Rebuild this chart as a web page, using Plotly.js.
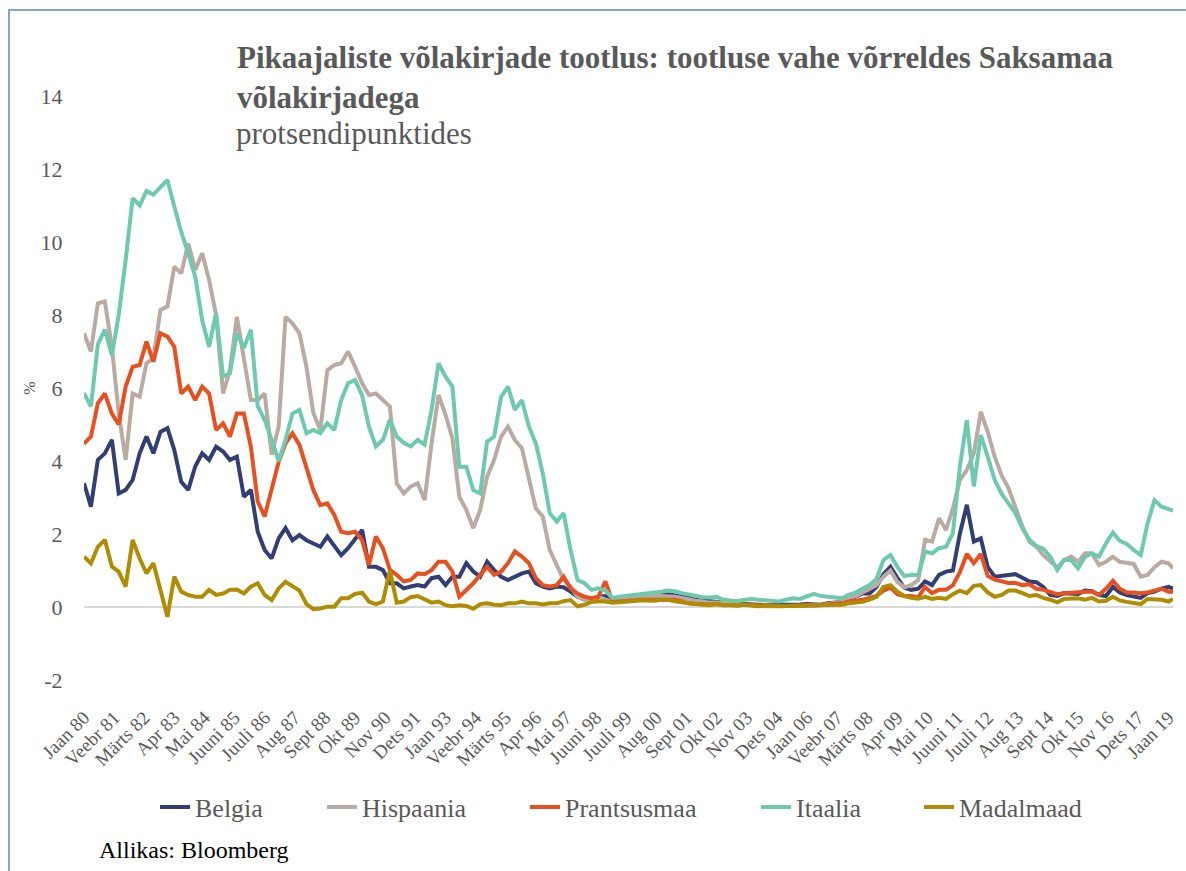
<!DOCTYPE html>
<html><head><meta charset="utf-8">
<script src="https://cdn.plot.ly/plotly-3.0.1.min.js"></script>
<style>
html,body{margin:0;padding:0;background:#fff;}
#wrap{position:relative;width:1186px;height:871px;overflow:hidden;}
#chart{width:1186px;height:871px;}
#frame{position:absolute;left:8px;top:9px;width:1400px;height:1000px;border-left:2px solid #82a3d6;border-top:2px solid #82a3d6;pointer-events:none;}
</style></head>
<body><div id="wrap"><div id="chart"></div><div id="frame"></div></div>
<script>
const dates = [
"1980-01","1980-04","1980-07","1980-10","1981-01","1981-04","1981-07","1981-10",
"1982-01","1982-04","1982-07","1982-10","1983-01","1983-04","1983-07","1983-10",
"1984-01","1984-04","1984-07","1984-10","1985-01","1985-04","1985-07","1985-10",
"1986-01","1986-04","1986-07","1986-10","1987-01","1987-04","1987-07","1987-10",
"1988-01","1988-04","1988-07","1988-10","1989-01","1989-04","1989-07","1989-10",
"1990-01","1990-04","1990-07","1990-10","1991-01","1991-04","1991-07","1991-10",
"1992-01","1992-04","1992-07","1992-10","1993-01","1993-04","1993-07","1993-10",
"1994-01","1994-04","1994-07","1994-10","1995-01","1995-04","1995-07","1995-10",
"1996-01","1996-04","1996-07","1996-10","1997-01","1997-04","1997-07","1997-10",
"1998-01","1998-04","1998-07","1998-10","1999-01","1999-04","1999-07","1999-10",
"2000-01","2000-04","2000-07","2000-10","2001-01","2001-04","2001-07","2001-10",
"2002-01","2002-04","2002-07","2002-10","2003-01","2003-04","2003-07","2003-10",
"2004-01","2004-04","2004-07","2004-10","2005-01","2005-04","2005-07","2005-10",
"2006-01","2006-04","2006-07","2006-10","2007-01","2007-04","2007-07","2007-10",
"2008-01","2008-04","2008-07","2008-10","2009-01","2009-04","2009-07","2009-10",
"2010-01","2010-04","2010-07","2010-10","2011-01","2011-04","2011-07","2011-10",
"2012-01","2012-04","2012-07","2012-10","2013-01","2013-04","2013-07","2013-10",
"2014-01","2014-04","2014-07","2014-10","2015-01","2015-04","2015-07","2015-10",
"2016-01","2016-04","2016-07","2016-10","2017-01","2017-04","2017-07","2017-10",
"2018-01","2018-04","2018-07","2018-10","2019-01","2019-03"];

const belgia = [
3.39,2.75,4.03,4.21, 4.58,3.11,3.21,3.48, 4.21,4.67,4.21,4.8, 4.9,4.3,3.43,3.21,
3.85,4.21,4.03,4.39, 4.26,4.03,4.12,3.02, 3.21,2.06,1.56,1.33, 1.88,2.16,1.83,1.97,
1.83,1.74,1.65,1.93, 1.65,1.42,1.61,1.88, 2.11,1.1,1.1,1.01, 0.65,0.65,0.51,0.56,
0.6,0.56,0.79,0.83, 0.6,0.83,0.83,1.2, 0.97,0.83,1.24,1.01, 0.83,0.74,0.83,0.92,
0.97,0.65,0.56,0.51, 0.56,0.54,0.42,0.28, 0.21,0.17,0.28,0.3, 0.2,0.22,0.25,0.28,
0.3,0.33,0.35,0.35, 0.35,0.32,0.28,0.25, 0.2,0.18,0.15,0.15, 0.12,0.1,0.08,0.08,
0.08,0.06,0.05,0.05, 0.05,0.05,0.06,0.07, 0.08,0.06,0.06,0.1, 0.12,0.14,0.2,0.28,
0.37,0.37,0.55,0.9, 1.1,0.8,0.53,0.47, 0.5,0.7,0.6,0.88, 0.97,1.0,2.0,2.8,
1.79,1.88,1.1,0.83, 0.85,0.88,0.9,0.8, 0.7,0.68,0.55,0.33, 0.3,0.38,0.38,0.36,
0.45,0.43,0.33,0.3, 0.55,0.4,0.33,0.28, 0.25,0.38,0.42,0.5, 0.55,0.5];

const hispaania = [
7.5,7.0,8.32,8.37, 7.13,5.3,4.03,5.85, 5.76,6.68,6.81,8.14, 8.23,9.32,9.14,9.96,
9.23,9.69,8.96,8.0, 5.85,6.5,7.95,6.77, 5.67,5.67,5.85,4.17, 4.94,7.95,7.77,7.5,
6.58,5.31,4.85,6.49, 6.63,6.68,7.0,6.58, 6.13,5.81,5.85,5.67, 5.49,3.39,3.11,3.3,
3.39,2.93,4.48,5.81, 5.26,4.62,3.02,2.66, 2.16,2.66,3.57,4.03, 4.67,4.94,4.57,4.35,
3.57,2.7,2.48,1.56, 1.15,0.74,0.56,0.28, 0.19,0.17,0.28,0.2, 0.15,0.2,0.22,0.24,
0.27,0.28,0.3,0.3, 0.3,0.28,0.25,0.2, 0.17,0.15,0.12,0.12, 0.1,0.08,0.07,0.06,
0.05,0.03,0.02,0.02, 0.02,0.02,0.03,0.03, 0.04,0.05,0.05,0.08, 0.1,0.14,0.25,0.3,
0.4,0.5,0.6,0.83, 1.0,0.69,0.54,0.6, 0.74,1.84,1.79,2.43, 2.11,2.7,3.48,3.75,
4.21,5.35,4.8,4.12, 3.6,3.25,2.7,2.2, 1.79,1.65,1.42,1.24, 1.08,1.29,1.38,1.24,
1.47,1.47,1.15,1.24, 1.38,1.24,1.2,1.18, 0.83,0.88,1.09,1.24, 1.2,1.06];

const prantsusmaa = [
4.48,4.67,5.58,5.85, 5.3,5.0,6.04,6.58, 6.63,7.27,6.72,7.5, 7.41,7.13,5.85,6.04,
5.67,6.04,5.85,4.85, 5.03,4.67,5.3,5.3, 4.39,2.89,2.48,3.2, 3.98,4.48,4.76,4.44,
3.85,3.2,2.79,2.84, 2.52,2.06,2.02,2.06, 1.83,1.15,1.93,1.61, 1.02,0.88,0.7,0.74,
0.92,0.9,1.01,1.24, 1.24,0.97,0.28,0.47, 0.65,0.88,1.1,0.88, 0.97,1.2,1.52,1.38,
1.2,0.79,0.6,0.56, 0.6,0.83,0.51,0.37, 0.28,0.24,0.28,0.7, 0.15,0.15,0.17,0.18,
0.2,0.2,0.2,0.22, 0.22,0.2,0.15,0.1, 0.08,0.07,0.07,0.08, 0.05,0.05,0.04,0.06,
0.05,0.04,0.03,0.03, 0.03,0.03,0.04,0.05, 0.05,0.04,0.05,0.07, 0.08,0.1,0.15,0.17,
0.2,0.25,0.3,0.45, 0.53,0.35,0.3,0.3, 0.27,0.55,0.38,0.47, 0.47,0.6,0.95,1.45,
1.2,1.45,0.85,0.75, 0.7,0.66,0.66,0.6, 0.62,0.5,0.47,0.4, 0.35,0.38,0.4,0.4,
0.42,0.42,0.33,0.5, 0.72,0.5,0.4,0.4, 0.38,0.4,0.45,0.5, 0.42,0.42];

const itaalia = [
5.86,5.49,7.2,7.6, 6.9,8.0,9.5,11.2, 11.0,11.4,11.3,11.5, 11.7,10.97,10.28,9.69,
9.05,7.86,7.13,8.05, 6.31,6.4,7.5,7.1, 7.6,5.5,5.13,4.58, 4.0,4.58,5.3,5.4,
4.76,4.85,4.76,5.03, 4.85,5.67,6.13,6.22, 5.8,4.94,4.4,4.58, 5.13,4.67,4.5,4.4,
4.58,4.45,5.4,6.68, 6.31,6.04,3.84,3.84, 3.2,3.11,4.53,4.67, 5.76,6.04,5.4,5.67,
4.94,4.48,3.66,2.57, 2.34,2.57,1.56,0.74, 0.65,0.47,0.51,0.45, 0.25,0.28,0.3,0.33,
0.36,0.37,0.38,0.42, 0.45,0.43,0.38,0.34, 0.3,0.27,0.26,0.28, 0.2,0.18,0.16,0.2,
0.22,0.2,0.18,0.16, 0.15,0.2,0.24,0.22, 0.28,0.36,0.3,0.28, 0.25,0.24,0.33,0.39,
0.51,0.6,0.76,1.29, 1.42,1.1,0.85,0.88, 0.88,1.52,1.47,1.61, 1.65,2.02,3.84,5.12,
3.3,4.71,4.12,3.48, 3.1,2.84,2.57,2.15, 1.84,1.67,1.6,1.38, 1.01,1.29,1.29,1.06,
1.38,1.47,1.38,1.74, 2.04,1.81,1.73,1.56, 1.42,2.29,2.93,2.75, 2.7,2.64];

const madalmaad = [
1.38,1.2,1.65,1.84, 1.11,0.97,0.56,1.84, 1.33,0.92,1.2,0.47, -0.27,0.83,0.42,0.33,
0.28,0.28,0.47,0.33, 0.37,0.47,0.48,0.37, 0.56,0.65,0.33,0.19, 0.51,0.69,0.56,0.45,
0.08,-0.06,-0.04,0.01, 0.01,0.24,0.24,0.36, 0.39,0.15,0.08,0.15, 1.0,0.12,0.15,0.27,
0.3,0.2,0.12,0.15, 0.05,0.02,0.05,0.03, -0.05,0.08,0.1,0.06, 0.05,0.1,0.1,0.15,
0.1,0.1,0.07,0.1, 0.1,0.16,0.19,0.02, 0.06,0.14,0.16,0.15, 0.12,0.13,0.15,0.17,
0.18,0.18,0.17,0.2, 0.2,0.16,0.12,0.1, 0.08,0.06,0.05,0.08, 0.05,0.06,0.04,0.06,
0.05,0.02,0.04,0.02, 0.02,0.03,0.02,0.03, 0.04,0.04,0.05,0.06, 0.06,0.06,0.1,0.13,
0.14,0.2,0.28,0.55, 0.6,0.42,0.3,0.25, 0.23,0.28,0.22,0.25, 0.22,0.35,0.45,0.38,
0.58,0.6,0.4,0.28, 0.33,0.45,0.45,0.38, 0.3,0.33,0.25,0.2, 0.13,0.22,0.24,0.24,
0.2,0.25,0.15,0.17, 0.28,0.18,0.14,0.12, 0.08,0.22,0.2,0.2, 0.15,0.22];

const tickDates = ["1980-01","1981-02","1982-03","1983-04","1984-05","1985-06","1986-07","1987-08","1988-09","1989-10","1990-11","1991-12","1993-01","1994-02","1995-03","1996-04","1997-05","1998-06","1999-07","2000-08","2001-09","2002-10","2003-11","2004-12","2006-01","2007-02","2008-03","2009-04","2010-05","2011-06","2012-07","2013-08","2014-09","2015-10","2016-11","2017-12","2019-01"];
const tickLabels = ["Jaan 80","Veebr 81","Märts 82","Apr 83","Mai 84","Juuni 85","Juuli 86","Aug 87","Sept 88","Okt 89","Nov 90","Dets 91","Jaan 93","Veebr 94","Märts 95","Apr 96","Mai 97","Juuni 98","Juuli 99","Aug 00","Sept 01","Okt 02","Nov 03","Dets 04","Jaan 06","Veebr 07","Märts 08","Apr 09","Mai 10","Juuni 11","Juuli 12","Aug 13","Sept 14","Okt 15","Nov 16","Dets 17","Jaan 19"];
const yTickVals = [-2,0,2,4,6,8,10,12,14];
const yTickLabels = ["-2","0","2","4","6","8","10","12","14"];

const seriesNames = ["Belgia","Hispaania","Prantsusmaa","Itaalia","Madalmaad"];
const seriesValues = [belgia, hispaania, prantsusmaa, itaalia, madalmaad];
const seriesColors = ["#333f74","#b9aba3","#e8511f","#6dcaae","#b08d00"];
const legendIds = ["legend","legend2","legend3","legend4","legend5"];
const legendLeftPx = [155,322,525,756,919];

const FONT = "Liberation Serif, 'Times New Roman', serif";
const PL = 84, PW = 1089, PT = 96, PH = 584;

const traces = seriesNames.map((n,i)=>({
  type:"scatter", mode:"lines", name:n, x:dates, y:seriesValues[i],
  legend:legendIds[i],
  line:{color:seriesColors[i], width:4}, hoverinfo:"x+y+name"
}));

const layout = {
  width:1186, height:871,
  margin:{l:PL, r:1186-PL-PW, t:PT, b:871-PT-PH},
  paper_bgcolor:"#fff", plot_bgcolor:"#fff",
  font:{family:FONT, color:"#595959"},
  title:{
    text:"<b>Pikaajaliste võlakirjade tootlus: tootluse vahe võrreldes Saksamaa</b><br><b>võlakirjadega</b>",
    font:{family:FONT, size:31, color:"#595959"},
    x:237/1186, xref:"container", xanchor:"left",
    y:1-68/871, yref:"container", yanchor:"top"
  },
  xaxis:{
    type:"date", range:["1980-01-01","2019-03-01"],
    tickmode:"array", tickvals:tickDates, ticktext:tickLabels,
    tickangle:-45, tickfont:{family:FONT, size:19, color:"#595959"},
    showgrid:false, zeroline:false, showline:false,
    ticks:"outside", ticklen:18, tickcolor:"rgba(0,0,0,0)"
  },
  yaxis:{
    range:[-2,14], tickmode:"array", tickvals:yTickVals, ticktext:yTickLabels,
    tickfont:{family:FONT, size:22, color:"#595959"},
    showgrid:false, showline:false,
    zeroline:true, zerolinecolor:"#d9d9d9", zerolinewidth:2,
    ticks:"outside", ticklen:16, tickcolor:"rgba(0,0,0,0)",
    title:{text:"%", font:{family:FONT, size:16, color:"#595959"}, standoff:0}
  },
  showlegend:true,
  annotations:[{
    text:"protsendipunktides", xref:"paper", yref:"paper",
    x:(234-PL)/PW, y:(PT+PH-133)/PH, xanchor:"left", yanchor:"middle", showarrow:false,
    font:{family:FONT, size:31, color:"#595959"}
  },{
    text:"Allikas: Bloomberg", xref:"paper", yref:"paper",
    x:13/PW, y:-170/PH, xanchor:"left", yanchor:"middle", showarrow:false,
    font:{family:FONT, size:24, color:"#000"}
  }]
};
legendIds.forEach((id,i)=>{
  layout[id] = {orientation:"h", x:(legendLeftPx[i]-PL)/PW, xanchor:"left",
    y:-(807-PT-PH)/PH, yanchor:"middle",
    font:{family:FONT, size:26, color:"#595959"}, bgcolor:"rgba(0,0,0,0)"};
});

Plotly.newPlot("chart", traces, layout, {displayModeBar:false, staticPlot:true});
</script>
</body></html>
